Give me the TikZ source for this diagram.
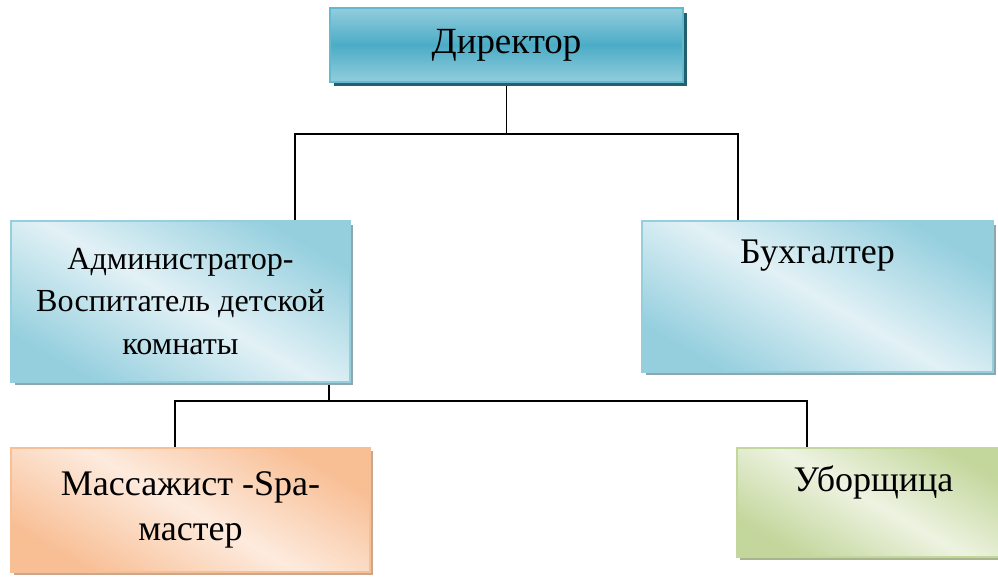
\documentclass[tikz,border=0pt]{standalone}
\usepackage{fontspec}
\setmainfont{Liberation Serif}
\newfontfamily\postfont{Liberation Serif}
\usepackage{tikz}
\usetikzlibrary{calc}
\usetikzlibrary{shadows}
\usetikzlibrary{backgrounds}

\definecolor{dirmid}{HTML}{4BACC6}
\definecolor{dirlite}{HTML}{93CDDD}
\definecolor{dirline}{HTML}{62BACF}
\definecolor{dirshad}{HTML}{245F6E}
\definecolor{blueedge}{HTML}{95CFDE}
\definecolor{bluelite}{HTML}{E2F1F6}
\definecolor{blueshad}{HTML}{8CA7B0}
\definecolor{orangeedge}{HTML}{F8BE94}
\definecolor{orangelite}{HTML}{FDEBDE}
\definecolor{orangeshad}{HTML}{C9A88F}
\definecolor{greenedge}{HTML}{C3D69B}
\definecolor{greenlite}{HTML}{EDF3E1}
\definecolor{greenshad}{HTML}{A8B48E}

\tikzset{
  posttext/.style={font=\postfont\fontsize{20.5}{26}\selectfont},
  post/.style={draw, line width=1.1pt, rectangle, align=center, inner sep=2pt, posttext},
  conn/.style={line width=1.1pt, black},
  bluebox/.style={post, draw=blueedge, left color=blueedge, right color=blueedge,
    middle color=bluelite, shading angle=-30,
    drop shadow={shadow xshift=0.07cm, shadow yshift=-0.07cm, fill=blueshad, opacity=1}},
}

\begin{document}
\begin{tikzpicture}[x=0.02cm, y=-0.02cm]
\useasboundingbox (0,0) rectangle (998,576);
\node (dir) at (506.5,45) [post, draw=dirline, top color=dirlite, bottom color=dirlite,
  middle color=dirmid, minimum width=7.06cm, minimum height=1.48cm,
  font=\postfont\fontsize{21}{26}\selectfont,
  drop shadow={shadow xshift=0.08cm, shadow yshift=-0.09cm, fill=dirshad, opacity=1}]
  {Директор};
\node (adm) at (180.5,301.5) [bluebox, minimum width=6.78cm, minimum height=3.22cm,
  font=\postfont\fontsize{18.3}{24}\selectfont]
  {Администратор-\\Воспитатель детской\\комнаты};
\node (buh) at (817.5,296.5) [bluebox, minimum width=7.02cm, minimum height=3.02cm] {};
\node (buhtxt) at ($(buh.north)+(0,36)$) [posttext] {Бухгалтер};
\node (mas) at (190.5,510) [post, draw=orangeedge, left color=orangeedge, right color=orangeedge,
  middle color=orangelite, shading angle=-30, minimum width=7.18cm, minimum height=2.48cm,
  drop shadow={shadow xshift=0.06cm, shadow yshift=-0.06cm, fill=orangeshad, opacity=1}]
  {Массажист -Spa-\\мастер};
\node (ub) at (873.5,502.5) [post, draw=greenedge, left color=greenedge, right color=greenedge,
  middle color=greenlite, shading angle=-30, minimum width=5.46cm, minimum height=2.18cm,
  drop shadow={shadow xshift=0.06cm, shadow yshift=-0.06cm, fill=greenshad, opacity=1}] {};
\node (ubtxt) at ($(ub.north)+(0,35)$) [posttext] {Уборщица};
\coordinate (top) at ($(dir.south)+(0,51)$);
\coordinate (mid) at ($(adm.south west)+(319,18)$);
\begin{scope}[on background layer]
\draw [conn] (dir.south) -- (top);
\draw [conn] ($(adm.north west)+(285,0)$) |- (top) -| ($(buh.north west)+(97,0)$);
\draw [conn] ($(adm.south west)+(319,0)$) -- (mid);
\draw [conn] ($(mas.north west)+(165,0)$) |- (mid) -| ($(ub.north west)+(71,0)$);
\end{scope}
\end{tikzpicture}
\end{document}
